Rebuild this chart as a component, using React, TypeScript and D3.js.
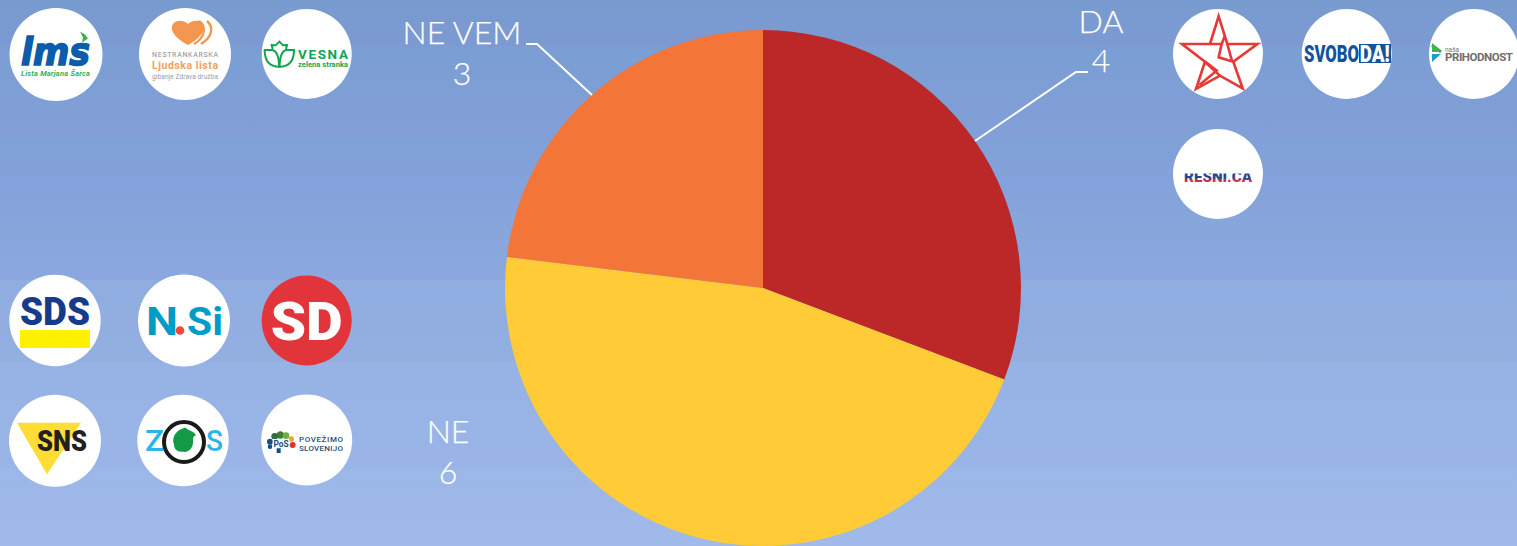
import React from "react";
import * as d3 from "d3";

const categories = ["DA", "NE", "NE VEM"];
const seriesValues = [4, 6, 3];
const sliceColors = ["#BC2828", "#FFCB36", "#F47538"];

const W = 1517, H = 546;
const cx = 763, cy = 288, R = 258;

const bandStops = [0, 47, 136, 212, 280, 362, 468, 546];
const bandTop = ["#779BCF", "#7A9ED3", "#80A0D8", "#86A6DB", "#8FADE1", "#96B3E5", "#9BB7E7"];
const bandBot = ["#7D9AD2", "#829FD8", "#86A3DC", "#8CA7E0", "#94AEE0", "#9AB4E7", "#A0BAEA"];

const Badge = ({ x, y, r = 45.5, fill = "#fff", children }: any) => (
  <g transform={`translate(${x},${y})`}>
    <circle r={r} fill={fill} />
    {children}
  </g>
);

const sans = "Roboto, 'Liberation Sans', sans-serif";

export default function App() {
  const pie = d3.pie<number>().value((d) => d).sort(null);
  const arc = d3.arc<d3.PieArcDatum<number>>().innerRadius(0).outerRadius(R);
  const arcs = pie(seriesValues);
  const label = { fontFamily: "Lato, sans-serif", fontWeight: 300, fontSize: 32, fill: "#fff", stroke: "#fff", strokeWidth: 0.25 };
  return (
    <svg width={W} height={H} style={{ position: "fixed", left: 0, top: 0 }}>
      <defs>
        {bandTop.map((c, i) => (
          <linearGradient key={i} id={`b${i}`} x1="0" x2="0" y1="0" y2="1">
            <stop offset="0" stopColor={c} />
            <stop offset="1" stopColor={bandBot[i]} />
          </linearGradient>
        ))}
        <linearGradient id="resni" x1="0" x2="0" y1="0" y2="1">
          <stop offset="0.3" stopColor="#24458F" />
          <stop offset="0.55" stopColor="#24458F" />
          <stop offset="0.68" stopColor="#C9344A" />
        </linearGradient>
      </defs>
      {bandTop.map((_, i) => (
        <rect key={i} x={0} y={bandStops[i]} width={W} height={bandStops[i + 1] - bandStops[i]} fill={`url(#b${i})`} />
      ))}

      <g transform={`translate(${cx},${cy})`}>
        {arcs.map((a, i) => (
          <path key={categories[i]} d={arc(a) || ""} fill={sliceColors[i]} />
        ))}
      </g>

      <polyline points="975,141 1076,72 1088,72" fill="none" stroke="#fff" strokeWidth={2} />
      <polyline points="592,95 537,44 526,44" fill="none" stroke="#fff" strokeWidth={2} />

      <g {...label} textAnchor="middle">
        <text x={1101} y={33}>{categories[0]}</text>
        <text x={1101} y={72}>{seriesValues[0]}</text>
        <text x={448} y={443}>{categories[1]}</text>
        <text x={448} y={484}>{seriesValues[1]}</text>
        <text x={462} y={44}>{categories[2]}</text>
        <text x={462} y={85}>{seriesValues[2]}</text>
      </g>

      {/* lms */}
      <Badge x={56} y={54.5} r={46.5}>
        <text x={-35} y={10.5} fontFamily="'DejaVu Sans', sans-serif" fontWeight={700} fontStyle="oblique" fontSize={37} fill="#0B5CAB" stroke="#0B5CAB" strokeWidth={1.6} textLength={69} lengthAdjust="spacingAndGlyphs">lms</text>
        <path d="M24,-23 l5,3 3,4 -6,4 1,-5 z" fill="#38B44A" />
        <text x={-35} y={21} fontFamily={sans} fontWeight={700} fontStyle="italic" fontSize={7.5} fill="#2FB457" textLength={69}>Lista Marjana Šarca</text>
      </Badge>
      {/* Ljudska lista */}
      <Badge x={185} y={54} r={46}>
        <path d="M188,45 C178,40 170,32 172,26 C174,20 182,19 188,24 C194,19 202,20 203,26 C205,33 197,40 188,45 Z" transform="translate(-185,-54)" fill="#F4964F" />
        <path d="M14,-33 C22,-28 20,-16 9,-10" fill="none" stroke="#F4964F" strokeWidth={2.4} />
        <path d="M22,-33 C30,-26 26,-16 16,-10" fill="none" stroke="#F4964F" strokeWidth={2.4} />
        <text x={0} y={2.5} textAnchor="middle" fontFamily={sans} fontSize={7} fill="#8C8C8C" textLength={66}>NESTRANKARSKA</text>
        <text x={0} y={14.5} textAnchor="middle" fontFamily={sans} fontWeight={700} fontSize={10.5} fill="#F0A060" textLength={66}>Ljudska lista</text>
        <text x={0} y={25} textAnchor="middle" fontFamily={sans} fontSize={6.5} fill="#9A9A9A" textLength={66}>gibanje Zdrava družba</text>
      </Badge>
      {/* Vesna */}
      <Badge x={306.7} y={54} r={45}>
        <g transform="translate(-46.7,-19) scale(0.3333)" fill="none" stroke="#12A454" strokeWidth={6}>
          <path d="M14,45 h24 q18,5 20,50 q-44,0 -44,-50 z" />
          <path d="M102,45 h-24 q-18,5 -20,50 q44,0 44,-50 z" />
          <path d="M38,42 l-3,-12 l12,1 l11,-11 l11,11 l12,-1 l-3,12" />
        </g>
        <text x={-8.7} y={5} fontFamily={sans} fontWeight={700} fontSize={13.5} fill="#12A454" textLength={50}>VESNA</text>
        <text x={-8.7} y={13} fontFamily={sans} fontWeight={700} fontSize={7.5} fill="#12A454" textLength={50}>zelena stranka</text>
      </Badge>

      {/* SDS */}
      <Badge x={55} y={320.5} r={45.7}>
        <text x={0} y={4.5} textAnchor="middle" fontFamily={sans} fontWeight={900} fontSize={38} fill="#173B8C" textLength={70} lengthAdjust="spacingAndGlyphs">SDS</text>
        <rect x={-35} y={9.5} width={70} height={18} fill="#FFF200" />
      </Badge>
      {/* N.Si */}
      <Badge x={184} y={320.5} r={46}>
        <text x={-38} y={14.5} fontFamily={sans} fontWeight={700} fontSize={39} fill="#009CC8" textLength={32} lengthAdjust="spacingAndGlyphs">N</text>
        <circle cx={-4} cy={10} r={4.3} fill="#EE4A3C" />
        <text x={3} y={14.5} fontFamily={sans} fontWeight={700} fontSize={39} fill="#009CC8" textLength={36} lengthAdjust="spacingAndGlyphs">Si</text>
      </Badge>
      {/* SD */}
      <Badge x={306.7} y={320.5} r={45} fill="#E2353B">
        <text x={0} y={19} textAnchor="middle" fontFamily={sans} fontWeight={900} fontSize={54} fill="#fff" textLength={72} lengthAdjust="spacingAndGlyphs">SD</text>
      </Badge>

      {/* SNS */}
      <Badge x={55} y={440.8} r={46}>
        <path d="M-38,-18 H26 L-8,33.5 Z" fill="#FFDD33" />
        <text x={7} y={10} textAnchor="middle" fontFamily={sans} fontWeight={900} fontSize={29} fill="#231F20" textLength={50} lengthAdjust="spacingAndGlyphs">SNS</text>
      </Badge>
      {/* ZOS */}
      <Badge x={183} y={440.5} r={45.7}>
        <circle cx={1} cy={1.5} r={20} fill="none" stroke="#1A1A1A" strokeWidth={4} />
        <path d="M-9,4 C-12,-6 -4,-11 2,-13 C7,-9 12,-9 13,-5 C10,-5 10,-2 10,2 C10,9 3,13 0,11 C-5,12 -9,9 -9,4 Z" fill="#149A47" />
        <text x={-38} y={10.5} fontFamily={sans} fontWeight={500} fontSize={30} fill="#2BB5E8" textLength={19} lengthAdjust="spacingAndGlyphs">Z</text>
        <text x={23} y={10.5} fontFamily={sans} fontWeight={500} fontSize={30} fill="#2BB5E8" textLength={17} lengthAdjust="spacingAndGlyphs">S</text>
      </Badge>
      {/* PoS */}
      <Badge x={306.7} y={440} r={45.5}>
        <g transform="translate(-44.7,-15) scale(0.3333)">
          <circle cx={55} cy={30} r={11} fill="#3E7D33" />
          <circle cx={38} cy={34} r={10} fill="#2F6E3A" />
          <circle cx={72} cy={32} r={10} fill="#6FAE3C" />
          <circle cx={88} cy={42} r={8} fill="#F0A42E" />
          <circle cx={92} cy={60} r={9} fill="#D8362F" />
          <circle cx={24} cy={50} r={9} fill="#14507F" />
          <circle cx={24} cy={65} r={7} fill="#14507F" />
          <rect x={44} y={68} width={12} height={16} fill="#14507F" />
          <rect x={32} y={42} width={50} height={28} rx={2} fill="#fff" />
          <text x={57} y={66} textAnchor="middle" fontFamily={sans} fontWeight={700} fontSize={25} fill="#14507F">PoS</text>
        </g>
        <text x={-7.7} y={2} fontFamily={sans} fontWeight={500} fontSize={8} fill="#1D4E7C" textLength={44}>POVEŽIMO</text>
        <text x={-7.7} y={11} fontFamily={sans} fontWeight={500} fontSize={8} fill="#1D4E7C" textLength={44}>SLOVENIJO</text>
      </Badge>

      {/* red star */}
      <Badge x={1218} y={54} r={45}>
        <g transform="translate(-48,-49) scale(0.3333)" fill="none" stroke="#E53A35" strokeWidth={8} strokeLinejoin="miter">
          <polygon points="146,34 172,117 262,117 190,170 218,250 150,212 78,252 105,170 36,117 120,117" />
          <path d="M120,117 H155 L146,157 L190,170" />
          <path d="M165,92 L155,117" />
          <path d="M172,117 L186,168" />
          <path d="M105,170 L150,212" />
          <path d="M105,170 L140,197 L88,240" />
        </g>
      </Badge>
      {/* Svoboda */}
      <Badge x={1346.7} y={54} r={45}>
        <rect x={12.3} y={-10} width={32} height={19} fill="#13539E" />
        <text x={-42.7} y={8} fontFamily={sans} fontWeight={900} fontSize={24} fill="#13539E" textLength={55} lengthAdjust="spacingAndGlyphs">SVOBO</text>
        <text x={13} y={8} fontFamily={sans} fontWeight={900} fontSize={24} fill="#fff" textLength={30} lengthAdjust="spacingAndGlyphs">DA!</text>
      </Badge>
      {/* Nasa prihodnost */}
      <Badge x={1474} y={54} r={45}>
        <path d="M-42,-11 L-33,-2 L-42,-2 Z" fill="#3FB34F" />
        <path d="M-42,-9 L-33,-2" fill="none" stroke="#3FB34F" strokeWidth={3} />
        <path d="M-42,0 L-33,0 L-42,8 Z" fill="#1B9CD8" />
        <text x={-29} y={-2.5} fontFamily={sans} fontSize={6.5} fill="#7A7A7A">naša</text>
        <text x={-29} y={6.5} fontFamily={sans} fontWeight={700} fontSize={11.5} fill="#6E6E6E" textLength={68}>PRIHODNOST</text>
      </Badge>
      {/* Resni.ca */}
      <Badge x={1218} y={174} r={45}>
        <text x={0} y={8} textAnchor="middle" fontFamily={sans} fontWeight={900} fontSize={15} fill="url(#resni)" textLength={68} lengthAdjust="spacingAndGlyphs">RESNI.CA</text>
        <rect x={-36} y={-5} width={72} height={4.5} fill="#fff" />
      </Badge>
    </svg>
  );
}
